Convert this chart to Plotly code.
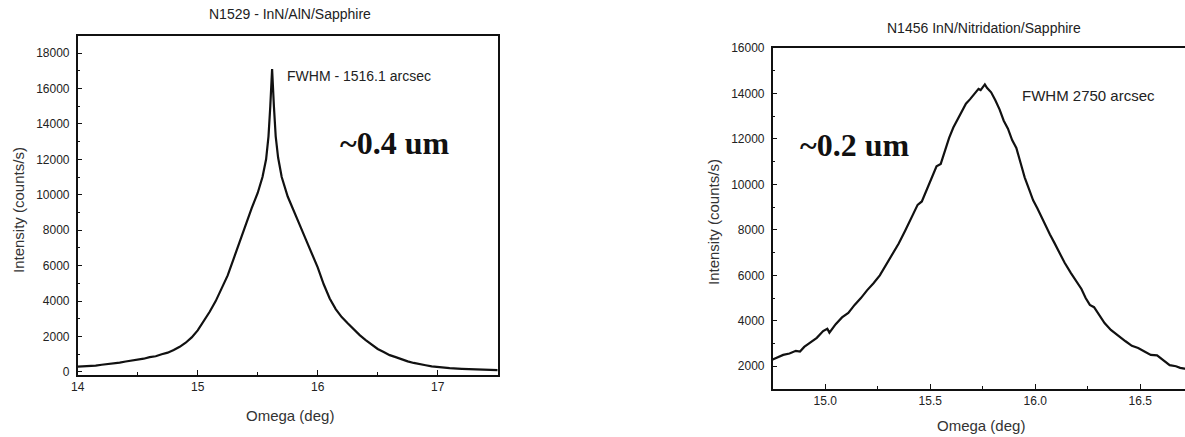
import plotly.graph_objects as go

W, H = 1185, 437

# ---- Left panel data: N1529 - InN/AlN/Sapphire ----
omega_left = [14.00, 14.05, 14.10, 14.15, 14.20, 14.25, 14.30, 14.35, 14.40, 14.45,
              14.50, 14.55, 14.60, 14.65, 14.70, 14.75, 14.80, 14.85, 14.90, 14.95,
              15.00, 15.05, 15.10, 15.15, 15.20, 15.25, 15.30, 15.35, 15.40, 15.45,
              15.50, 15.54, 15.57, 15.59, 15.605, 15.62, 15.635, 15.65, 15.67, 15.70,
              15.75, 15.80, 15.85, 15.90, 15.95, 16.00, 16.05, 16.10, 16.15, 16.20,
              16.25, 16.30, 16.35, 16.40, 16.45, 16.50, 16.55, 16.60, 16.65, 16.70,
              16.75, 16.80, 16.85, 16.90, 16.95, 17.00, 17.10, 17.20, 17.30, 17.40, 17.50]
intensity_left = [300, 310, 350, 360, 410, 440, 490, 530, 590, 640,
                  710, 750, 840, 890, 1000, 1090, 1240, 1420, 1650, 1950,
                  2350, 2850, 3400, 4000, 4700, 5450, 6400, 7350, 8400, 9250,
                  10100, 11000, 12000, 13300, 15000, 17100, 15000, 13300, 12100, 11000,
                  9900, 9050, 8300, 7500, 6700, 5900, 4950, 4150, 3550, 3100,
                  2750, 2400, 2080, 1800, 1560, 1300, 1130, 950, 840, 700,
                  600, 510, 430, 380, 320, 280, 220, 180, 150, 120, 100]

# ---- Right panel data: N1456 InN/Nitridation/Sapphire ----
omega_right = [14.75, 14.78, 14.80, 14.83, 14.86, 14.88, 14.90, 14.93, 14.96, 14.99,
               15.01, 15.02, 15.05, 15.08, 15.11, 15.14, 15.17, 15.20, 15.23, 15.26,
               15.29, 15.32, 15.35, 15.38, 15.41, 15.44, 15.46, 15.48, 15.51, 15.53,
               15.55, 15.57, 15.59, 15.61, 15.63, 15.65, 15.67, 15.69, 15.71, 15.73,
               15.74, 15.75, 15.76, 15.77, 15.79, 15.81, 15.83, 15.85, 15.87, 15.89,
               15.91, 15.93, 15.95, 15.97, 15.99, 16.01, 16.04, 16.07, 16.09, 16.11,
               16.14, 16.17, 16.20, 16.22, 16.24, 16.26, 16.28, 16.30, 16.33, 16.36,
               16.38, 16.40, 16.43, 16.46, 16.49, 16.52, 16.55, 16.58, 16.61, 16.64,
               16.67, 16.69, 16.71, 16.72]
intensity_right = [2300, 2420, 2500, 2560, 2680, 2650, 2850, 3050, 3250, 3550,
                   3650, 3480, 3850, 4150, 4350, 4700, 5000, 5350, 5650, 6000,
                   6450, 6950, 7400, 7950, 8500, 9100, 9250, 9700, 10300, 10800,
                   10900, 11500, 12050, 12500, 12850, 13200, 13550, 13750, 14000, 14200,
                   14150, 14300, 14400, 14250, 14050, 13700, 13300, 12800, 12450, 11950,
                   11600, 10950, 10300, 9800, 9300, 8950, 8350, 7800, 7450, 7100,
                   6550, 6100, 5700, 5400, 5000, 4700, 4600, 4300, 3900, 3600,
                   3450, 3300, 3100, 2900, 2800, 2650, 2500, 2480, 2250, 2050,
                   2000, 1930, 1900, 1880]

left_title = "N1529 - InN/AlN/Sapphire"
right_title = "N1456 InN/Nitridation/Sapphire"
left_fwhm = "FWHM - 1516.1 arcsec"
right_fwhm = "FWHM 2750 arcsec"
left_thick = "~0.4 um"
right_thick = "~0.2 um"
x_label = "Omega (deg)"
y_label = "Intensity (counts/s)"


def px(x):
    return x / W


def py(y):
    return 1 - y / H


fig = go.Figure()
fig.add_trace(go.Scatter(x=omega_left, y=intensity_left, mode="lines",
                         line=dict(color="#111111", width=2.2), xaxis="x", yaxis="y",
                         showlegend=False, hoverinfo="skip"))
fig.add_trace(go.Scatter(x=omega_right, y=intensity_right, mode="lines",
                         line=dict(color="#111111", width=2.2), xaxis="x2", yaxis="y2",
                         showlegend=False, hoverinfo="skip"))

tick_font = dict(family="Liberation Sans, Arial, sans-serif", size=12, color="#222222")
common = dict(showline=True, mirror=True, linecolor="#111111", linewidth=1.5,
              ticks="inside", ticklen=5, tickwidth=1, tickcolor="#111111",
              showgrid=False, zeroline=False, tickfont=tick_font, automargin=False)

fig.update_layout(
    width=W, height=H,
    margin=dict(l=0, r=0, t=0, b=0),
    paper_bgcolor="white", plot_bgcolor="white",
    xaxis=dict(domain=[px(77.7), px(497.7)], range=[14, 17.5], anchor="y",
               dtick=1, tick0=14, tickformat="d",
               minor=dict(dtick=0.5, ticks="inside", ticklen=3, tickcolor="#111111"),
               **common),
    yaxis=dict(domain=[py(375), py(36)], range=[-170, 18960], anchor="x",
               dtick=2000, tick0=0, ticklabelstandoff=4, tickformat="d",
               minor=dict(dtick=1000, ticks="inside", ticklen=3, tickcolor="#111111"),
               **common),
    xaxis2=dict(domain=[px(772.7), 1.0], range=[14.75, 16.713], anchor="y2",
                dtick=0.5, tick0=15, tickformat=".1f",
                minor=dict(dtick=0.25, ticks="inside", ticklen=3, tickcolor="#111111"),
                **common),
    yaxis2=dict(domain=[py(389), py(48)], range=[1000, 16000], anchor="x2",
                dtick=2000, tick0=0, ticklabelstandoff=4, tickformat="d",
                minor=dict(dtick=1000, ticks="inside", ticklen=3, tickcolor="#111111"),
                **common),
)

title_font = dict(family="Liberation Sans, Arial, sans-serif", size=13, color="#222222")
label_font = dict(family="Liberation Sans, Arial, sans-serif", size=15, color="#333333")
serif_bold = dict(family="Liberation Serif, Times New Roman, serif", size=32, color="#111111")

annotations = [
    dict(text=left_title, x=px(290), y=py(14), font=dict(title_font, size=14)),
    dict(text=right_title, x=px(984), y=py(28), font=dict(title_font, size=14)),
    dict(text=x_label, x=px(290), y=py(415), font=label_font),
    dict(text=x_label, x=px(981), y=py(425), font=label_font),
    dict(text=y_label, x=px(18), y=py(210), font=label_font, textangle=-90),
    dict(text=y_label, x=px(713), y=py(222), font=label_font, textangle=-90),
    dict(text=left_fwhm, x=px(285), y=py(76), xanchor="left",
         font=dict(title_font, size=14)),
    dict(text=right_fwhm, x=px(1020), y=py(96), xanchor="left",
         font=dict(title_font, size=15)),
    dict(text="<b>" + left_thick + "</b>", x=px(394), y=py(143), font=serif_bold),
    dict(text="<b>" + right_thick + "</b>", x=px(854), y=py(145), font=serif_bold),
]
for a in annotations:
    a.setdefault("xanchor", "center")
    a.update(xref="paper", yref="paper", yanchor="middle", showarrow=False)
fig.update_layout(annotations=annotations)

fig.write_html("out.html")
